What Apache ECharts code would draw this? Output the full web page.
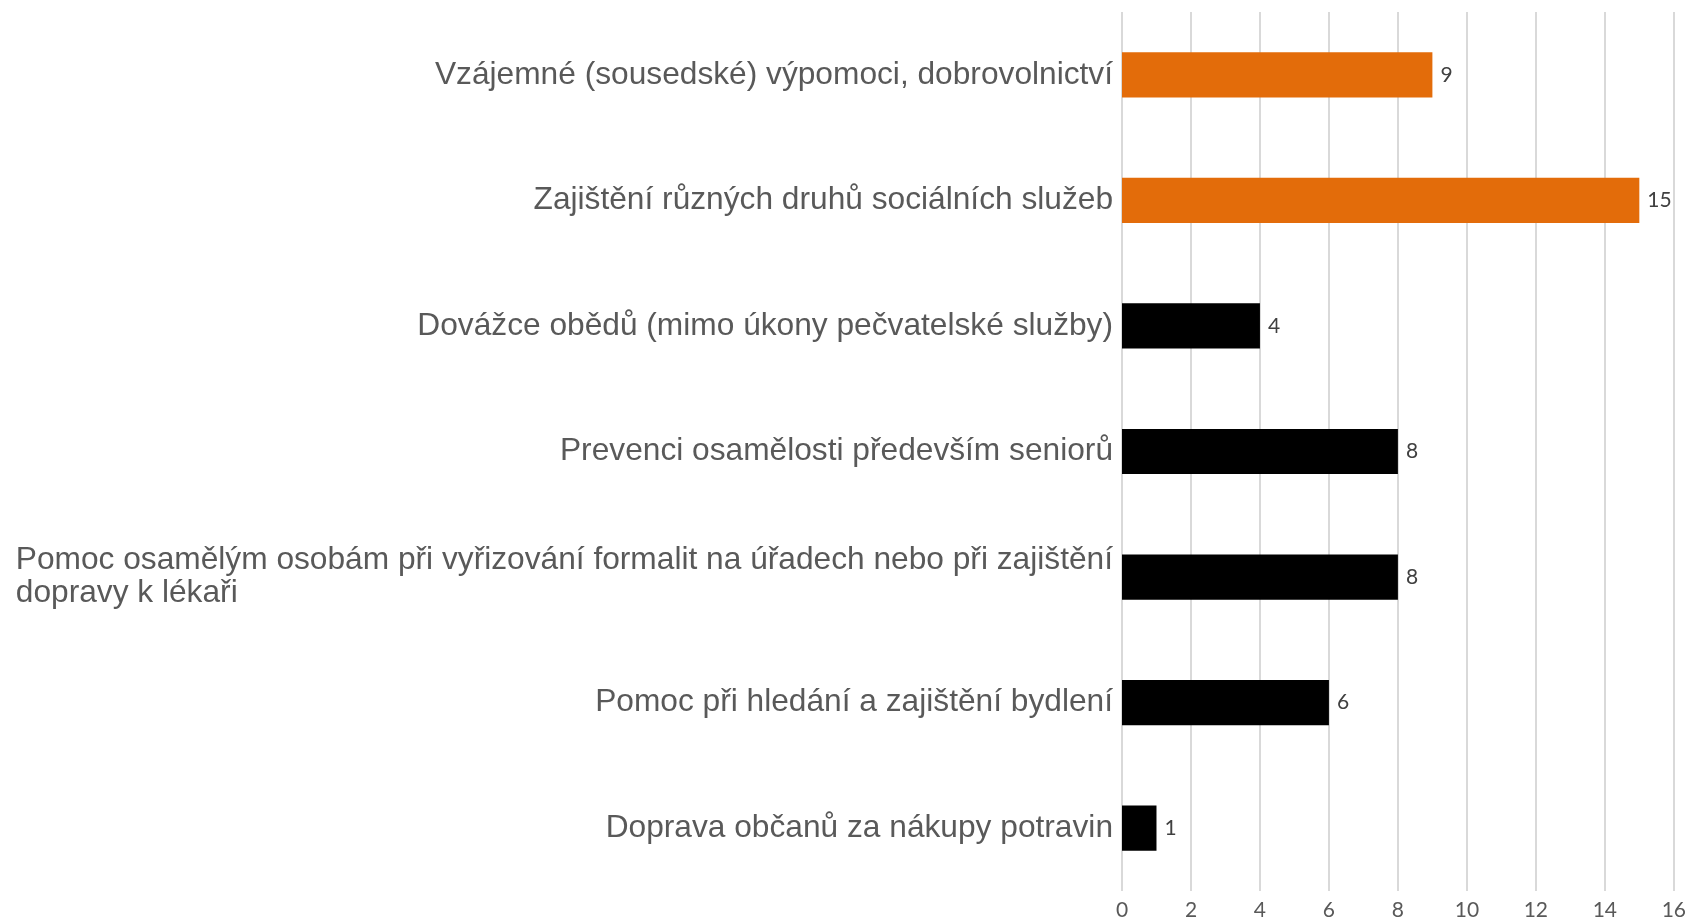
<!DOCTYPE html>
<html><head><meta charset="utf-8">
<script src="https://cdn.jsdelivr.net/npm/echarts@6/dist/echarts.min.js"></script>
<style>html,body{margin:0;padding:0;background:#fff}#c{width:1689px;height:921px}</style>
</head><body><div id="c"></div>
<script>
const categories = [
  "Vzájemné (sousedské) výpomoci, dobrovolnictví",
  "Zajištění různých druhů sociálních služeb",
  "Dovážce obědů (mimo úkony pečvatelské služby)",
  "Prevenci osamělosti především seniorů",
  "Pomoc osamělým osobám při vyřizování formalit na úřadech nebo při zajištění\ndopravy k lékaři",
  "Pomoc při hledání a zajištění bydlení",
  "Doprava občanů za nákupy potravin"
];
const values = [9, 15, 4, 8, 8, 6, 1];
const highlighted = [true, true, false, false, false, false, false];
const axisTicks = [0, 2, 4, 6, 8, 10, 12, 14, 16];

const chart = echarts.init(document.getElementById('c'));
chart.setOption({
  animation: false,
  grid: { left: 1122, right: 14, top: 12, bottom: 29, containLabel: false },
  xAxis: {
    type: 'value', min: axisTicks[0], max: axisTicks[axisTicks.length - 1], interval: 2,
    axisLine: { show: false }, axisTick: { show: false },
    splitLine: { show: true, lineStyle: { color: '#d9d9d9', width: 2 } },
    axisLabel: { color: '#595959', fontSize: 21, fontFamily: 'Lato, "Open Sans", sans-serif', margin: 9 }
  },
  yAxis: {
    type: 'category', data: categories, inverse: true,
    axisLine: { show: false }, axisTick: { show: false },
    axisLabel: {
      margin: 9,
      formatter: v => v.split('\n').map(l => '{l|' + l + '}').join('\n'),
      rich: { l: { align: 'left', fontSize: 31.7, lineHeight: 33, color: '#595959', fontFamily: '"Liberation Sans", Arial, sans-serif' } }
    }
  },
  series: [{
    type: 'bar', barWidth: '36%',
    data: values.map((v, i) => ({ value: v, itemStyle: { color: highlighted[i] ? '#E36C0A' : '#000000' } })),
    label: { show: true, position: 'right', distance: 8, color: '#404040', fontSize: 21, fontFamily: 'Lato, "Open Sans", sans-serif' }
  }]
});
</script></body></html>
